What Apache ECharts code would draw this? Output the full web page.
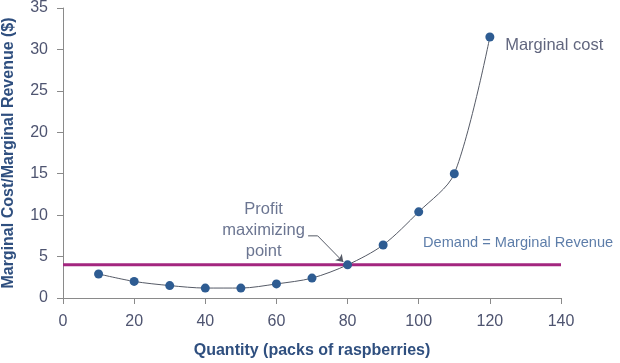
<!DOCTYPE html>
<html>
<head>
<meta charset="utf-8">
<script src="https://cdn.jsdelivr.net/npm/echarts@6/dist/echarts.min.js"></script>
<style>html,body{margin:0;padding:0;background:#fff}#c{width:620px;height:363px}</style>
</head>
<body>
<div id="c"></div>
<script>
var quantity = [10, 20, 30, 40, 50, 60, 70, 80, 90, 100, 110, 120];
var marginalCost = [2.9, 2.0, 1.5, 1.2, 1.2, 1.7, 2.4, 4.0, 6.4, 10.4, 15.0, 31.5];
var demandX = [0, 140];
var demandY = [4, 4];
var xTicks = [0, 20, 40, 60, 80, 100, 120, 140];
var yTicks = [0, 5, 10, 15, 20, 25, 30, 35];
var annotations = [
  {text: 'Marginal cost', x: 124.3, y: 30.5, align: 'left', size: 16.5, color: '#3a405e'},
  {text: 'Demand = Marginal Revenue', x: 101.2, y: 6.6, align: 'left', size: 14.6, color: '#355c94'},
  {text: 'Profit\nmaximizing\npoint', x: 56.4, y: 8.1, align: 'center', size: 16.5, color: '#465276'}
];
var arrowPath = [[68.9, 7.5], [71.6, 7.5], [78.8, 4.35]];

var chart = echarts.init(document.getElementById('c'), null, {renderer: 'canvas'});
var font = 'Liberation Sans, Arial, sans-serif';
var option = {
  animation: false,
  grid: {left: 63, right: 59, top: 8, bottom: 65, outerBoundsMode: 'none', containLabel: false},
  xAxis: {
    type: 'value', min: 0, max: 140, interval: 20,
    name: 'Quantity (packs of raspberries)', nameLocation: 'middle', nameGap: 45,
    nameTextStyle: {fontFamily: font, fontSize: 16, fontWeight: 'bold', color: '#2f4f7f'},
    axisLine: {show: true, lineStyle: {color: '#8a8a8a', width: 1}},
    axisTick: {show: true, length: 6, lineStyle: {color: '#8a8a8a'}},
    axisLabel: {fontFamily: font, fontSize: 16, color: '#4e5470', margin: 16},
    splitLine: {show: false}
  },
  yAxis: {
    type: 'value', min: 0, max: 35, interval: 5,
    name: 'Marginal Cost/Marginal Revenue ($)', nameLocation: 'middle', nameGap: 46, nameRotate: 90,
    nameTextStyle: {fontFamily: font, fontSize: 16, fontWeight: 'bold', color: '#2f4f7f'},
    axisLine: {show: true, lineStyle: {color: '#8a8a8a', width: 1}},
    axisTick: {show: true, length: 6, lineStyle: {color: '#8a8a8a'}},
    axisLabel: {fontFamily: font, fontSize: 16, color: '#4e5470', margin: 15},
    splitLine: {show: false}
  },
  series: [
    {
      type: 'line', z: 2,
      data: demandX.map(function (x, i) { return [x, demandY[i]]; }),
      symbol: 'none',
      lineStyle: {color: '#a3267f', width: 3}
    },
    {
      type: 'line', z: 3,
      data: quantity.map(function (q, i) { return [q, marginalCost[i]]; }),
      smooth: 0.3,
      symbol: 'circle', symbolSize: 9,
      itemStyle: {color: '#2e5c92'},
      lineStyle: {color: '#555a66', width: 1}
    },
    {
      type: 'line', z: 4,
      data: arrowPath.slice(0, 2),
      symbol: 'none',
      lineStyle: {color: '#555a66', width: 1},
      markLine: {
        silent: true,
        symbol: ['none', 'arrow'], symbolSize: 7,
        lineStyle: {color: '#555a66', width: 1, type: 'solid'},
        label: {show: false},
        data: [[{coord: arrowPath[1]}, {coord: arrowPath[2]}]]
      }
    },
    {
      type: 'scatter', z: 5,
      symbolSize: 0,
      data: annotations.map(function (a) {
        return {
          value: [a.x, a.y],
          label: {show: true, formatter: a.text, position: 'inside', align: a.align,
            verticalAlign: 'middle', fontFamily: font, fontSize: a.size, lineHeight: 21,
            color: a.color}
        };
      })
    }
  ]
};
chart.setOption(option);
</script>
</body>
</html>
